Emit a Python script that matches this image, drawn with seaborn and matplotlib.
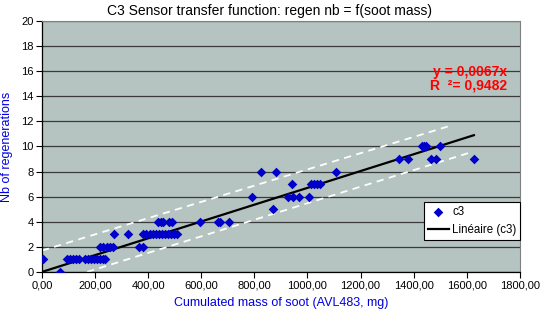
import matplotlib
matplotlib.use("Agg")
import matplotlib.pyplot as plt
import seaborn as sns
import numpy as np
import pandas as pd
from matplotlib.ticker import FuncFormatter, MultipleLocator

# soot mass (mg) and number of regenerations
soot_mass = [5, 68,
             94, 105, 117, 128, 139, 162, 173, 184, 196, 207, 218, 230, 237,
             218, 230, 245, 256, 267, 365, 380,
             271, 324, 380, 392, 407, 418, 429, 441, 452, 463, 475, 486, 497, 508,
             437, 448, 456, 478, 489, 595, 663, 670, 704,
             871,
             791, 926, 944, 968, 1005,
             943, 1015, 1024, 1035, 1047,
             825, 881, 1106,
             1345, 1379, 1465, 1486, 1627,
             1430, 1440, 1448, 1499]
regen_nb = [1, 0,
            1, 1, 1, 1, 1, 1, 1, 1, 1, 1, 1, 1, 1,
            2, 2, 2, 2, 2, 2, 2,
            3, 3, 3, 3, 3, 3, 3, 3, 3, 3, 3, 3, 3, 3,
            4, 4, 4, 4, 4, 4, 4, 4, 4,
            5,
            6, 6, 6, 6, 6,
            7, 7, 7, 7, 7,
            8, 8, 8,
            9, 9, 9, 9, 9,
            10, 10, 10, 10]

slope = 0.0067
r2 = 0.9482
# dashed band ends (x, y)
upper_x = [0, 1530]
upper_y = [1.7, 11.6]
lower_x = [170, 1610]
lower_y = [0.0, 9.5]

df = pd.DataFrame({"mass": soot_mass, "nb": regen_nb})
fit_x = np.array([0, max(soot_mass)])
fit = pd.DataFrame({"mass": fit_x, "nb": slope * fit_x})

plt.rcParams["font.family"] = ["Liberation Sans", "DejaVu Sans"]

fig = plt.figure(figsize=(5.43, 3.14), dpi=100)
ax = fig.add_axes([0.0773, 0.134, 0.880, 0.799])
ax.set_facecolor("#b5c4c0")

ax.plot(upper_x, upper_y, color="white", lw=1.3, ls=(0, (4, 3)), zorder=2)
ax.plot(lower_x, lower_y, color="white", lw=1.3, ls=(0, (4, 3)), zorder=2)

sns.scatterplot(data=df, x="mass", y="nb", marker="D", s=24, color="#0000c8",
                edgecolor="#0000c8", linewidth=0, ax=ax, label="c3", zorder=4)
sns.lineplot(data=fit, x="mass", y="nb", color="black", lw=1.6, ax=ax,
             label="Linéaire (c3)", zorder=3)

ax.set_xlim(0, 1800)
ax.set_ylim(0, 20)
ax.xaxis.set_major_locator(MultipleLocator(200))
ax.yaxis.set_major_locator(MultipleLocator(2))
ax.xaxis.set_major_formatter(FuncFormatter(lambda v, p: f"{v:.2f}".replace(".", ",")))
ax.yaxis.set_major_formatter(FuncFormatter(lambda v, p: f"{v:.0f}"))
ax.grid(axis="y", color="#3a3a3a", lw=0.9)
ax.grid(axis="x", visible=False)
ax.set_axisbelow(True)
ax.tick_params(labelsize=8, length=4, width=0.8, color="black", pad=2)
for s in ["left", "bottom"]:
    ax.spines[s].set_color("black")
    ax.spines[s].set_linewidth(0.9)
for s in ["top", "right"]:
    ax.spines[s].set_color("#808080")
    ax.spines[s].set_linewidth(0.8)

ax.set_title("C3 Sensor transfer function: regen nb = f(soot mass)", fontsize=10,
             pad=4, x=0.477)
ax.set_xlabel("Cumulated mass of soot (AVL483, mg)", color="#0000e0", fontsize=9, labelpad=5)
ax.set_ylabel("Nb of regenerations", color="#0000e0", fontsize=9, labelpad=6)

ax.text(0.973, 0.797, "y = 0,0067x", transform=ax.transAxes, color="#ff0000",
        fontsize=10, ha="right", va="center", fontweight="bold")
ax.text(0.973, 0.742, "R  ²= " + f"{r2:.4f}".replace(".", ","), transform=ax.transAxes,
        color="#ff0000", fontsize=10, ha="right", va="center", fontweight="bold")

leg = ax.legend(loc="upper left", bbox_to_anchor=(0.799, 0.277), fontsize=8.3,
                frameon=True, fancybox=False, edgecolor="black", framealpha=1,
                borderpad=0.35, handlelength=1.8, handletextpad=0.3,
                labelspacing=0.45, borderaxespad=0)
leg.get_frame().set_linewidth(0.8)

fig.savefig("out.png", dpi=100)
